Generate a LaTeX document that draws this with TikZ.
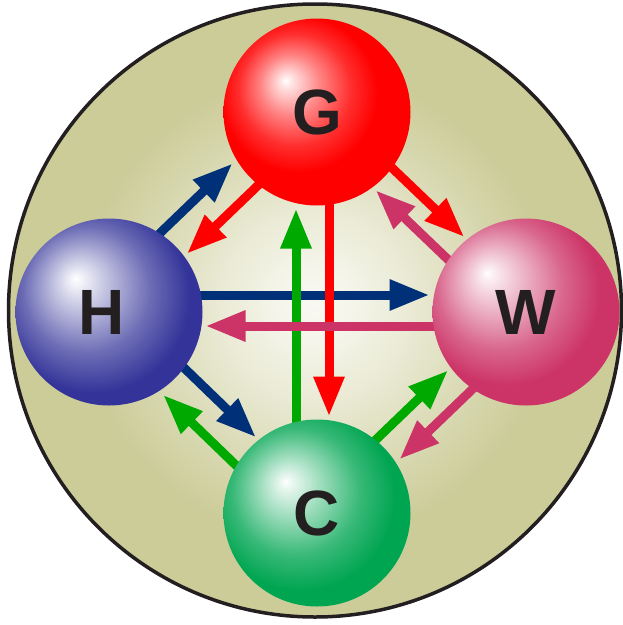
\documentclass[tikz,border=0pt]{standalone}
\usepackage{fontspec}
\setmainfont{Liberation Sans}
\usetikzlibrary{arrows.meta}

\definecolor{bgtan}{HTML}{CCCC99}
\definecolor{ringink}{HTML}{231F20}
\definecolor{labelink}{HTML}{231F20}
\definecolor{ballG}{HTML}{FF0000}
\definecolor{ballH}{HTML}{333399}
\definecolor{ballW}{HTML}{CC3366}
\definecolor{ballC}{HTML}{00A551}
\definecolor{flowblue}{HTML}{003078}
\definecolor{flowred}{HTML}{FF0000}
\definecolor{flowgreen}{HTML}{00A900}
\definecolor{flowpink}{HTML}{CC3366}

\pgfdeclarelayer{back}
\pgfsetlayers{back,main}

% glow of the cell and the four balls
\pgfdeclareradialshading{cellglow}{\pgfpoint{0bp}{0.5bp}}{color(0bp)=(bgtan!12!white); color(3bp)=(bgtan!20!white); color(8bp)=(bgtan!42!white); color(13bp)=(bgtan!70!white); color(19bp)=(bgtan); color(50bp)=(bgtan)}
\pgfdeclareradialshading{Gball}{\pgfpoint{-8.5bp}{8.5bp}}{color(0bp)=(white); color(1.5bp)=(ballG!10!white); color(8bp)=(ballG!48!white); color(15bp)=(ballG!82!white); color(21bp)=(ballG); color(50bp)=(ballG)}
\pgfdeclareradialshading{Hball}{\pgfpoint{-9bp}{9bp}}{color(0bp)=(white); color(1.5bp)=(ballH!6!white); color(9bp)=(ballH!38!white); color(17bp)=(ballH!72!white); color(26bp)=(ballH); color(50bp)=(ballH)}
\pgfdeclareradialshading{Wball}{\pgfpoint{-10.5bp}{10.5bp}}{color(0bp)=(white); color(1.5bp)=(ballW!8!white); color(9bp)=(ballW!40!white); color(17bp)=(ballW!75!white); color(25bp)=(ballW); color(50bp)=(ballW)}
\pgfdeclareradialshading{Cball}{\pgfpoint{-8.5bp}{8.5bp}}{color(0bp)=(white); color(1.5bp)=(ballC!8!white); color(9bp)=(ballC!42!white); color(17bp)=(ballC!78!white); color(25bp)=(ballC); color(50bp)=(ballC)}

\begin{document}
\begin{tikzpicture}[
        x=1pt, y=-1pt,
        sphere/.style={circle, minimum size=187pt, inner sep=0pt, outer sep=0pt,
            text=labelink, font=\bfseries\fontsize{64}{64}\selectfont},
        flow/.style={line width=9pt, -{Triangle[length=40pt,width=29pt]},
            shorten <=-8pt, shorten >=3pt},
        nudge/.style={transform canvas={shift={#1}}},
    ]
    \useasboundingbox (0,0) rectangle (623,625);

    \node[sphere, shading=Gball] (G) at (317,112) {G};
    \node[sphere, shading=Hball] (H) at (109,312) {\kern-15pt H};
    \node[sphere, shading=Wball] (W) at (526,312) {W};
    \node[sphere, shading=Cball] (C) at (317,513) {C};

    \begin{pgfonlayer}{back}
    \shadedraw[shading=cellglow, draw=ringink, line width=3.5pt] (315,310.5) circle[radius=306.5];

    % straight across
    \draw[flow, flowblue, nudge={(0,-17)}] (H) -- (W);
    \draw[flow, flowgreen, nudge={(-21,0)}] (C) -- (G);
    \draw[flow, flowred, nudge={(12,0)}] (G) -- (C);
    \draw[flow, flowpink, nudge={(0,14)}] (W) -- (H);

    % round the edge
    \draw[flow, flowblue, nudge={(46:-21.5)}] (H) -- (G);
    \draw[flow, flowred, nudge={(46:12)}] (G) -- (H);
    \draw[flow, flowred, nudge={(134:-11.5)}] (G) -- (W);
    \draw[flow, flowpink, nudge={(134:16)}] (W) -- (G);
    \draw[flow, flowblue, nudge={(134:-12)}] (H) -- (C);
    \draw[flow, flowgreen, nudge={(134:22)}] (C) -- (H);
    \draw[flow, flowgreen, nudge={(46:-12)}] (C) -- (W);
    \draw[flow, flowpink, nudge={(46:18.5)}] (W) -- (C);
    \end{pgfonlayer}
\end{tikzpicture}
\end{document}
